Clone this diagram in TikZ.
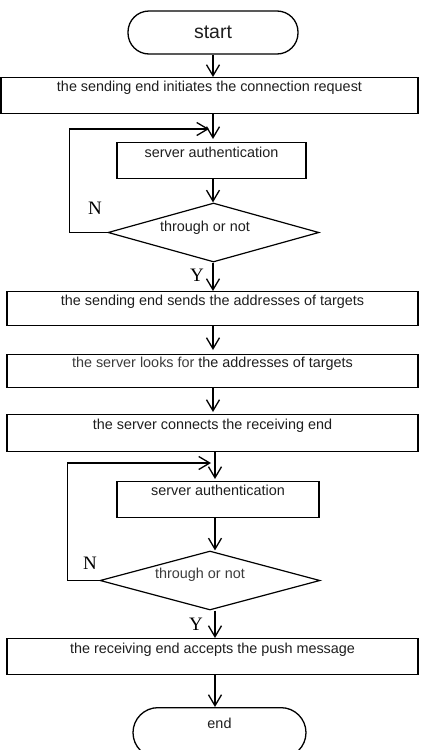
\documentclass[tikz,border=0pt]{standalone}
\usepackage{fontspec}
\setmainfont{Liberation Sans}
\newfontfamily\serifyn{Liberation Serif}
\usetikzlibrary{arrows.meta,shapes.geometric}
\definecolor{txtc}{HTML}{1E1E1E}
\definecolor{txtg}{HTML}{3C3C3C}
\begin{document}
\begin{tikzpicture}[x=1pt,y=-1pt,
  every node/.style={font=\fontsize{14.4}{16}\selectfont, text=txtc},
  procbox/.style={draw, line width=1.3pt, inner xsep=0pt, inner ysep=0pt, anchor=north},
  term/.style={draw, line width=1.3pt, inner sep=0pt},
  decis/.style={draw, diamond, line width=1.2pt, inner sep=0pt},
  yn/.style={font=\serifyn\fontsize{19}{20}\selectfont, text=black},
  arr/.style={line width=1.3pt, -{Straight Barb[length=11pt,width=13pt]}}
]
\useasboundingbox (0,0) rectangle (422,750);

\node[term, rounded corners=21pt, minimum width=170pt, minimum height=43pt, font=\fontsize{19.5}{20}\selectfont] (st) at (213,32.5) {start};

\node[procbox, minimum width=417pt, text height=14pt, text depth=22pt] (b1) at (209.5,77) {the sending end initiates the connection request};

\node[procbox, minimum width=189pt, text height=15pt, text depth=21pt] (a1) at (211.5,142) {server authentication};

\node[decis, minimum width=211pt, minimum height=59pt,
  label={[xshift=-8.5pt, yshift=4.5pt]center:{through or not}}] (d1) at (213.5,232.5) {};

\node[procbox, minimum width=411pt, text height=14pt, text depth=20pt] (b2) at (212.5,291) {the sending end sends the addresses of targets};

\node[procbox, minimum width=411pt, text height=13pt, text depth=20pt] (b3) at (212.5,354) {\textcolor{txtg}{the server looks for} the addresses of targets};

\node[procbox, minimum width=411pt, text height=15pt, text depth=22pt] (b4) at (212.5,414) {the server connects the receiving end};

\node[procbox, minimum width=202pt, text height=14pt, text depth=22pt] (a2) at (218,481) {server authentication};

\node[decis, minimum width=220pt, minimum height=59pt,
  label={[xshift=-10pt, yshift=5.5pt, text=txtg]center:{through or not}}] (d2) at (210,580.5) {};

\node[procbox, minimum width=411pt, text height=15pt, text depth=21pt] (b5) at (212.5,638) {the receiving end accepts the push message};

\node[term, rounded corners=25pt, anchor=north, minimum width=173pt, text height=21pt, text depth=29pt] (en) at (219.5,707) {end};

\node[yn] (n1) at (95,208) {N};
\node[yn] (y1) at (197,275) {Y};
\node[yn] (n2) at (90,563) {N};
\node[yn] (y2) at (196,624) {Y};

\coordinate (lx) at (215,0);
\coordinate (j1) at (209,129);
\coordinate (j2) at (211,463);

\draw[arr] (st.south) -- (b1.north -| st.south);
\draw[arr] (b1.south -| st.south) -- ([yshift=3pt]a1.north -| st.south);
\draw[arr] (a1.south -| st.south) -- (d1.north -| st.south);
\draw[arr] (d1.south -| st.south) -- (b2.north -| st.south);
\draw[arr] (b2.south -| st.south) -- ([yshift=4pt]b3.north -| st.south);
\draw[arr] (b3.south -| st.south) -- ([yshift=2pt]b4.north -| st.south);
\draw[arr] (b4.south -| lx) -- ([yshift=2pt]a2.north -| lx);
\draw[arr] (a2.south -| lx) -- (d2.north -| lx);
\draw[arr] (d2.south -| lx) -- (b5.north -| lx);
\draw[arr] (b5.south -| lx) -- (en.north -| lx);

\draw[arr] (d1.west) -- ++(-38,0) |- (j1);
\draw[arr] (d2.west) -- ++(-32,0) |- (j2);
\end{tikzpicture}
\end{document}
